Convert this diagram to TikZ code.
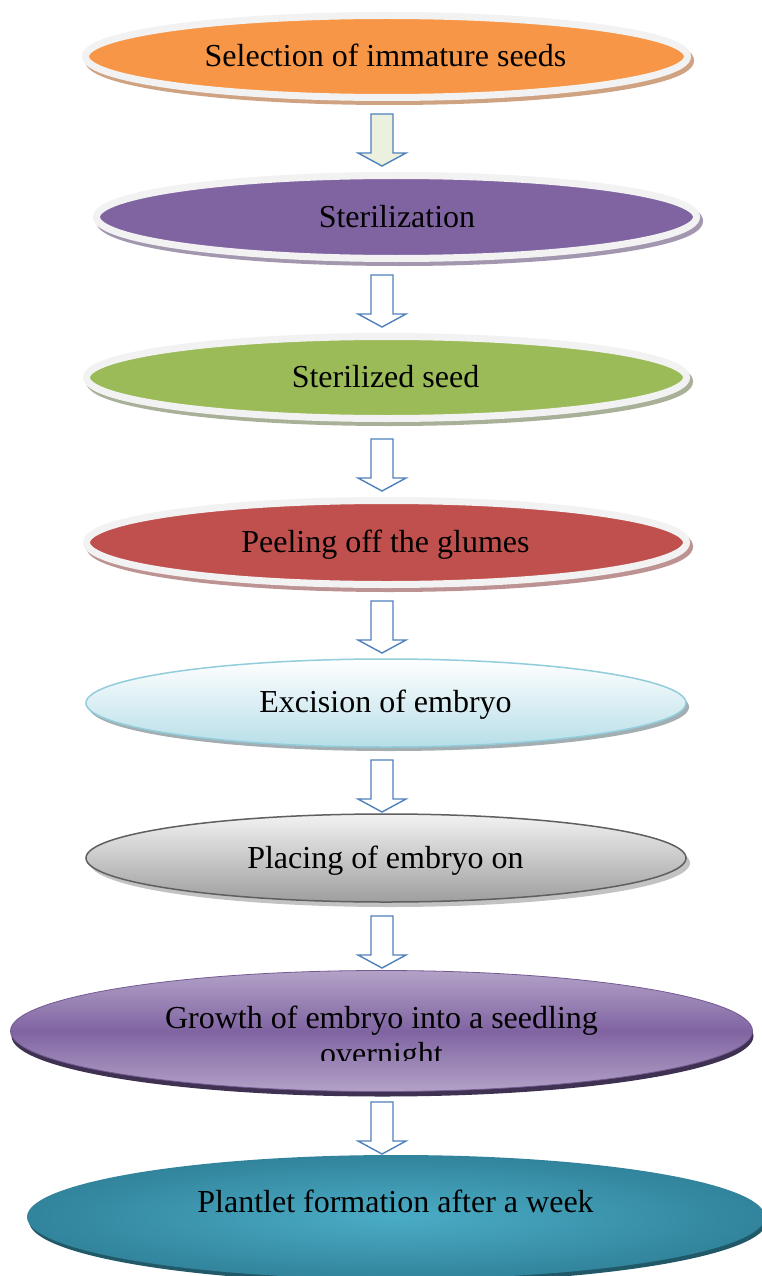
\documentclass[tikz,border=0pt]{standalone}
\usepackage{fontspec}
\setmainfont{Liberation Serif}
\usetikzlibrary{shapes.geometric,calc}
\definecolor{rimc}{HTML}{F2F2F2}
\definecolor{orangec}{HTML}{F79646}
\definecolor{orangesh}{HTML}{CFA282}
\definecolor{purplec}{HTML}{8064A2}
\definecolor{purplesh}{HTML}{A397B0}
\definecolor{greenc}{HTML}{9BBB59}
\definecolor{greensh}{HTML}{A8B098}
\definecolor{redc}{HTML}{C0504D}
\definecolor{redsh}{HTML}{BC9392}
\definecolor{lbluebd}{HTML}{92CDDC}
\definecolor{lbluebot}{HTML}{B7DEE8}
\definecolor{lbluesh}{HTML}{A3AEB2}
\definecolor{graybd}{HTML}{5F5F5F}
\definecolor{graysh}{HTML}{C2C2C2}
\definecolor{lpurple}{HTML}{B3A2C7}
\definecolor{dpurple}{HTML}{3F3151}
\definecolor{tealin}{HTML}{4BACC6}
\definecolor{tealout}{HTML}{31849B}
\definecolor{tealdk}{HTML}{215968}
\definecolor{arrowbd}{HTML}{4F81BD}
\definecolor{arrowgr}{HTML}{EBF1DE}
\tikzset{
  rimmed/.style 2 args={ellipse, inner sep=0pt, draw=rimc, line width=7pt, fill=#1,
    preaction={draw=#2, fill=#2, line width=7pt, transform canvas={xshift=3pt, yshift=-4pt}}},
  plainell/.style={ellipse, inner sep=0pt},
  txt/.style={font=\fontsize{32}{37}\selectfont, inner sep=0pt, anchor=base},
  barrow/.style={draw=arrowbd, line width=1.4pt, line join=miter}
}
\newcommand\blockarr[2]{\draw[barrow, fill=#2] (#1) ++(-11,0) -- ++(22,0) -- ++(0,39) -- ++(13,0) -- ++(-24,13) -- ++(-24,-13) -- ++(13,0) -- cycle;}
\begin{document}
\begin{tikzpicture}[x=1pt, y=-1pt]
\useasboundingbox (0,0) rectangle (762,1276);
\clip (0,0) rectangle (762,1276);
\fill[white] (0,0) rectangle (762,1276);

% arrow tops
\coordinate (a1) at (382,114);
\coordinate (a2) at (382,275);
\coordinate (a3) at (382,439);
\coordinate (a4) at (382,601);
\coordinate (a5) at (382,760);
\coordinate (a6) at (382,916);
\coordinate (a7) at (382,1102);
\blockarr{a1}{arrowgr}
\blockarr{a2}{white}
\blockarr{a3}{white}
\blockarr{a4}{white}
\blockarr{a5}{white}
\blockarr{a6}{white}
\blockarr{a7}{white}

% ellipses
\node[rimmed={orangec}{orangesh}, minimum width=602pt, minimum height=82pt] (s1) at (386.5,56.5) {};
\node[rimmed={purplec}{purplesh}, minimum width=600pt, minimum height=83pt] (s2) at (396.5,217) {};
\node[rimmed={greenc}{greensh}, minimum width=600pt, minimum height=82pt] (s3) at (386.5,377.5) {};
\node[rimmed={redc}{redsh}, minimum width=600pt, minimum height=84pt] (s4) at (386.5,542.5) {};
\node[plainell, draw=lbluebd, line width=1.5pt, top color=white, bottom color=lbluebot,
  preaction={fill=lbluesh, transform canvas={xshift=3pt, yshift=-4pt}},
  minimum width=600pt, minimum height=88pt] (s5) at (386,703) {};
\node[plainell, draw=graybd, line width=1.5pt, top color=white!95!black, bottom color=black!38,
  preaction={fill=graysh, transform canvas={xshift=4pt, yshift=-5pt}},
  minimum width=600pt, minimum height=88pt] (s6) at (386,858) {};
\node[plainell, draw=purplec!90!black, line width=0.8pt, top color=lpurple, bottom color=lpurple, middle color=purplec,
  preaction={fill=dpurple, transform canvas={xshift=1pt, yshift=-5pt}},
  minimum width=742pt, minimum height=121pt] (s7) at (381.5,1031) {};
\node[plainell, inner color=tealin, outer color=tealout,
  preaction={fill=tealdk, transform canvas={xshift=2pt, yshift=-4pt}},
  minimum width=738pt, minimum height=124pt] (s8) at (396,1217) {};

% texts
\node[txt] (t1) at (385.5,67) {Selection of immature seeds};
\node[txt] (t2) at (397,227) {Sterilization};
\node[txt] (t3) at (385.5,387.5) {Sterilized seed};
\node[txt] (t4) at (385.5,552.5) {Peeling off the glumes};
\node[txt] (t5) at (385.5,712) {Excision of embryo};
\node[txt] (t6) at (385.5,868) {Placing of embryo on};
\node[txt] (t7) at (381.5,1028) {Growth of embryo into a seedling};
\begin{scope}
\clip (0,0) rectangle (762,1060);
\node[txt] (t7b) at (381.5,1064) {overnight};
\end{scope}
\node[txt] (t8) at (395.5,1212) {Plantlet formation after a week};
\end{tikzpicture}
\end{document}
